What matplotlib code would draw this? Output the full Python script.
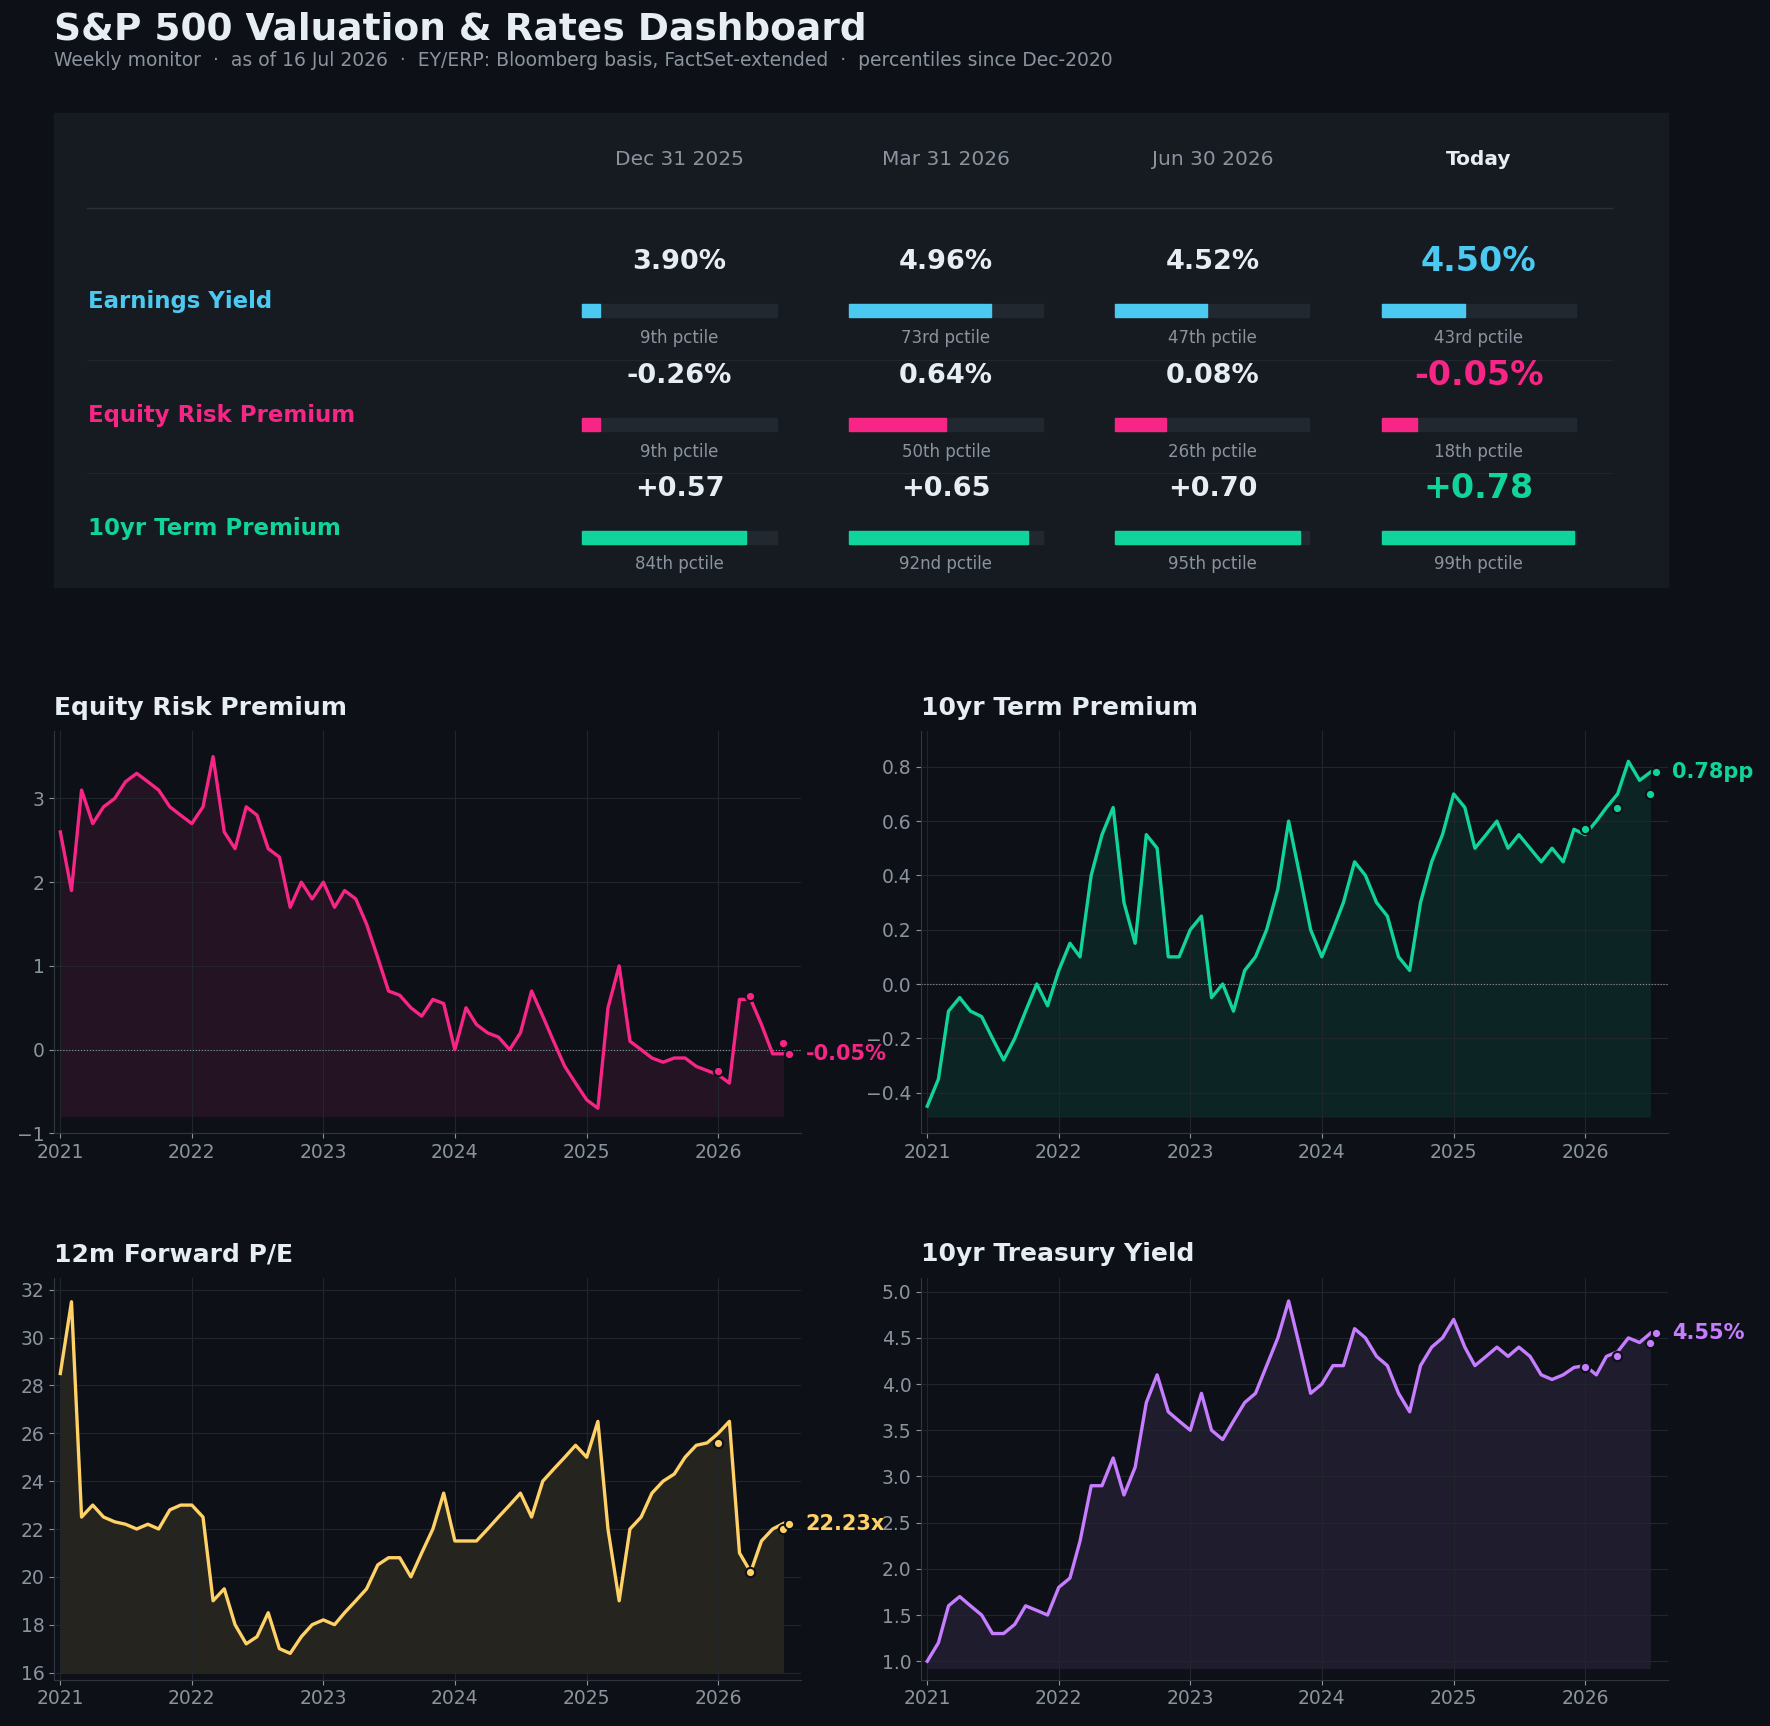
import matplotlib
matplotlib.use("Agg")
import matplotlib.pyplot as plt
import matplotlib.dates as mdates
import pandas as pd
from matplotlib.patches import Rectangle

BG = "#0d1117"; PANEL = "#161b22"; GRID = "#21262d"; TXT = "#e6edf3"; MUTED = "#8b949e"
C_EY = "#4cc9f0"; C_ERP = "#f72585"; C_TP = "#10d49c"; C_PE = "#ffd166"; C_TY = "#c77dff"

columns = ["Dec 31 2025", "Mar 31 2026", "Jun 30 2026", "Today"]
row_names = ["Earnings Yield", "Equity Risk Premium", "10yr Term Premium"]
ey_vals = ["3.90%", "4.96%", "4.52%", "4.50%"]; ey_pct = [9, 73, 47, 43]
erp_vals = ["-0.26%", "0.64%", "0.08%", "-0.05%"]; erp_pct = [9, 50, 26, 18]
tp_vals = ["+0.57", "+0.65", "+0.70", "+0.78"]; tp_pct = [84, 92, 95, 99]
pct_labels_ey = ["9th pctile", "73rd pctile", "47th pctile", "43rd pctile"]
pct_labels_erp = ["9th pctile", "50th pctile", "26th pctile", "18th pctile"]
pct_labels_tp = ["84th pctile", "92nd pctile", "95th pctile", "99th pctile"]

months = pd.date_range("2021-01-01", periods=67, freq="MS")
erp = [2.6, 1.9, 3.1, 2.7, 2.9, 3.0, 3.2, 3.3, 3.2, 3.1, 2.9, 2.8,
       2.7, 2.9, 3.5, 2.6, 2.4, 2.9, 2.8, 2.4, 2.3, 1.7, 2.0, 1.8,
       2.0, 1.7, 1.9, 1.8, 1.5, 1.1, 0.7, 0.65, 0.5, 0.4, 0.6, 0.55,
       0.0, 0.5, 0.3, 0.2, 0.15, 0.0, 0.2, 0.7, 0.4, 0.1, -0.2, -0.4,
       -0.6, -0.7, 0.5, 1.0, 0.1, 0.0, -0.1, -0.15, -0.1, -0.1, -0.2, -0.25,
       -0.3, -0.4, 0.6, 0.6, 0.3, -0.05, -0.05]
tp = [-0.45, -0.35, -0.1, -0.05, -0.1, -0.12, -0.2, -0.28, -0.2, -0.1, 0.0, -0.08,
      0.05, 0.15, 0.1, 0.4, 0.55, 0.65, 0.3, 0.15, 0.55, 0.5, 0.1, 0.1,
      0.2, 0.25, -0.05, 0.0, -0.1, 0.05, 0.1, 0.2, 0.35, 0.6, 0.4, 0.2,
      0.1, 0.2, 0.3, 0.45, 0.4, 0.3, 0.25, 0.1, 0.05, 0.3, 0.45, 0.55,
      0.7, 0.65, 0.5, 0.55, 0.6, 0.5, 0.55, 0.5, 0.45, 0.5, 0.45, 0.57,
      0.55, 0.6, 0.65, 0.7, 0.82, 0.75, 0.78]
pe = [28.5, 31.5, 22.5, 23.0, 22.5, 22.3, 22.2, 22.0, 22.2, 22.0, 22.8, 23.0,
      23.0, 22.5, 19.0, 19.5, 18.0, 17.2, 17.5, 18.5, 17.0, 16.8, 17.5, 18.0,
      18.2, 18.0, 18.5, 19.0, 19.5, 20.5, 20.8, 20.8, 20.0, 21.0, 22.0, 23.5,
      21.5, 21.5, 21.5, 22.0, 22.5, 23.0, 23.5, 22.5, 24.0, 24.5, 25.0, 25.5,
      25.0, 26.5, 22.0, 19.0, 22.0, 22.5, 23.5, 24.0, 24.3, 25.0, 25.5, 25.6,
      26.0, 26.5, 21.0, 20.2, 21.5, 22.0, 22.23]
ty = [1.0, 1.2, 1.6, 1.7, 1.6, 1.5, 1.3, 1.3, 1.4, 1.6, 1.55, 1.5,
      1.8, 1.9, 2.3, 2.9, 2.9, 3.2, 2.8, 3.1, 3.8, 4.1, 3.7, 3.6,
      3.5, 3.9, 3.5, 3.4, 3.6, 3.8, 3.9, 4.2, 4.5, 4.9, 4.4, 3.9,
      4.0, 4.2, 4.2, 4.6, 4.5, 4.3, 4.2, 3.9, 3.7, 4.2, 4.4, 4.5,
      4.7, 4.4, 4.2, 4.3, 4.4, 4.3, 4.4, 4.3, 4.1, 4.05, 4.1, 4.18,
      4.2, 4.1, 4.3, 4.35, 4.5, 4.45, 4.55]
snap_dates = pd.to_datetime(["2025-12-31", "2026-03-31", "2026-06-30", "2026-07-16"])
erp_snap = [-0.26, 0.64, 0.08, -0.05]
tp_snap = [0.57, 0.65, 0.70, 0.78]
pe_snap = [25.6, 20.2, 22.0, 22.23]
ty_snap = [4.18, 4.30, 4.45, 4.55]

W, H = 1568, 1529
fig = plt.figure(figsize=(17.7, 17.26), dpi=100, facecolor=BG)
ax0 = fig.add_axes([0, 0, 1, 1]); ax0.set_xlim(0, W); ax0.set_ylim(H, 0); ax0.axis("off")
ax0.text(48, 26, "S&P 500 Valuation & Rates Dashboard", color=TXT, fontsize=27, fontweight="bold", va="center")
ax0.text(48, 54, "Weekly monitor  ·  as of 16 Jul 2026  ·  EY/ERP: Bloomberg basis, FactSet-extended  ·  percentiles since Dec-2020",
         color=MUTED, fontsize=13.5, va="center")
ax0.add_patch(Rectangle((48, 100), 1430, 420, color=PANEL))
cx = [602, 838, 1074, 1310]
for i, c in enumerate(columns):
    last = i == 3
    ax0.text(cx[i], 141, c, color=TXT if last else MUTED, fontsize=14.5, ha="center", va="center",
             fontweight="bold" if last else "normal")
ax0.plot([77, 1428], [184, 184], color="#2a3038", lw=1)
for y in [319, 419]:
    ax0.plot([77, 1428], [y, y], color="#20262e", lw=0.8)
rows = [(ey_vals, ey_pct, pct_labels_ey, C_EY), (erp_vals, erp_pct, pct_labels_erp, C_ERP), (tp_vals, tp_pct, pct_labels_tp, C_TP)]
y0s = [232, 333, 433]
for r, ((vals, pcts, labs, col), y0) in enumerate(zip(rows, y0s)):
    ax0.text(78, y0 + 35, row_names[r], color=col, fontsize=16.5, fontweight="bold", va="center")
    for i in range(4):
        last = i == 3
        ax0.text(cx[i], y0, vals[i], color=col if last else TXT, fontsize=24 if last else 19.5,
                 fontweight="bold", ha="center", va="center")
        ax0.add_patch(Rectangle((cx[i] - 86, y0 + 37), 172, 12, color="#222830"))
        ax0.add_patch(Rectangle((cx[i] - 86, y0 + 37), 172 * pcts[i] / 100, 12, color=col))
        ax0.text(cx[i], y0 + 67, labs[i], color=MUTED, fontsize=12, ha="center", va="center")

def panel(rect, title, vals, snap, col, ylim, base, label, zero=False):
    ax = fig.add_axes(rect, facecolor=BG)
    ax.plot(months, vals, color=col, lw=2.4, zorder=3)
    ax.fill_between(months, vals, base, color=col, alpha=0.1, lw=0)
    ax.scatter(snap_dates, snap, s=45, color=col, edgecolor=BG, lw=1.5, zorder=4)
    ax.annotate(label, (snap_dates[-1], snap[-1]), xytext=(12, 0), textcoords="offset points",
                color=col, fontsize=15, fontweight="bold", va="center")
    if zero:
        ax.axhline(0, color=MUTED, lw=0.8, ls=":")
    ax.set_ylim(*ylim)
    ax.set_xlim(pd.Timestamp("2020-12-15"), pd.Timestamp("2026-08-20"))
    ax.xaxis.set_major_locator(mdates.YearLocator()); ax.xaxis.set_major_formatter(mdates.DateFormatter("%Y"))
    ax.grid(color=GRID, lw=0.8)
    for s in ["top", "right"]:
        ax.spines[s].set_visible(False)
    for s in ["left", "bottom"]:
        ax.spines[s].set_color("#30363d")
    ax.tick_params(colors=MUTED, labelsize=13.5)
    ax.set_title(title, loc="left", color=TXT, fontsize=18, fontweight="bold", pad=12)
    return ax

h = 356 / H; w = 662 / W
l1, l2 = 48 / W, 816 / W
b1, b2 = 1 - 1004 / H, 1 - 1488 / H
panel([l1, b1, w, h], "Equity Risk Premium", erp, erp_snap, C_ERP, (-1, 3.8), -0.8, "-0.05%", zero=True)
panel([l2, b1, w, h], "10yr Term Premium", tp, tp_snap, C_TP, (-0.55, 0.93), -0.49, "0.78pp", zero=True)
panel([l1, b2, w, h], "12m Forward P/E", pe, pe_snap, C_PE, (15.7, 32.5), 16.0, "22.23x")
panel([l2, b2, w, h], "10yr Treasury Yield", ty, ty_snap, C_TY, (0.8, 5.15), 0.92, "4.55%")
fig.savefig("out.png", dpi=100, facecolor=BG)
